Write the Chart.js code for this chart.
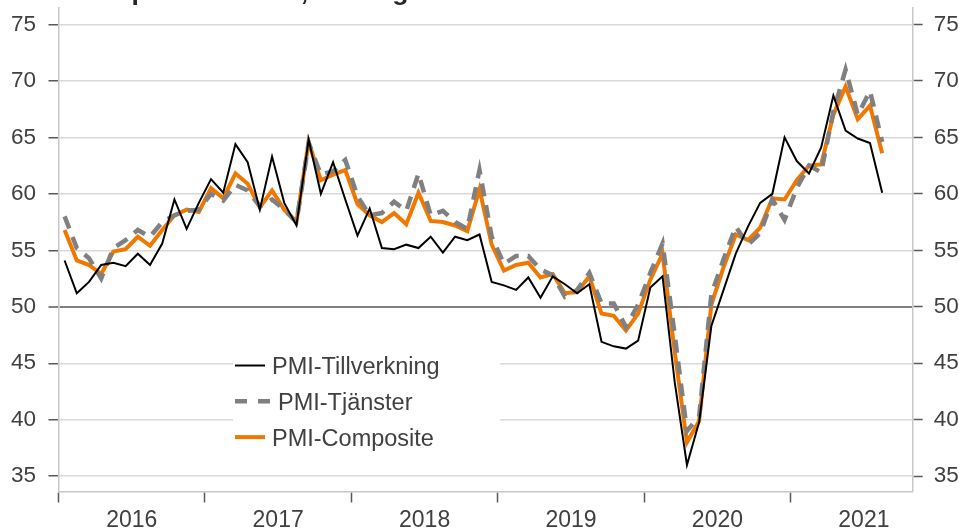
<!DOCTYPE html>
<html>
<head>
<meta charset="utf-8">
<script src="https://cdn.jsdelivr.net/npm/chart.js@4.4.1/dist/chart.umd.min.js"></script>
<style>
  html, body { margin: 0; padding: 0; background: #fff; }
  #wrap { width: 959px; height: 529px; position: relative; }
</style>
</head>
<body>
<div id="wrap"><canvas id="pmiChart"></canvas></div>
<script>
const years = ['2016', '2017', '2018', '2019', '2020', '2021'];
const yTicks = [35, 40, 45, 50, 55, 60, 65, 70, 75];
const seriesNames = ['PMI-Tillverkning', 'PMI-Tjänster', 'PMI-Composite'];
const titleText = 'Inköpschefsindex, säsongsrensat';

// månadsvärden jan 2016 - aug 2021
const tillverkning = [
  54.1, 51.2, 52.2, 53.7, 53.9, 53.6, 54.7, 53.7, 55.6, 59.5, 56.9, 59.2,
  61.3, 60.1, 64.4, 62.8, 58.6, 63.3, 59.2, 57.2, 64.8, 60.0, 62.8, 59.5,
  56.3, 58.7, 55.2, 55.1, 55.5, 55.2, 56.2, 54.8, 56.2, 55.9, 56.4, 52.2,
  51.9, 51.5, 52.6, 50.8, 52.7, 52.0, 51.2, 52.0, 46.9, 46.5, 46.3, 47.0,
  51.7, 52.7, 43.3, 36.0, 39.8, 48.3, 51.5, 54.7, 57.1, 59.2, 60.0, 65.0,
  62.9, 61.8, 64.1, 68.7, 65.6, 64.9, 64.5, 60.1
];
const tjanster = [
  58.0, 55.2, 54.3, 52.5, 55.2, 55.9, 56.8, 56.2, 57.5, 58.1, 58.5, 58.6,
  60.0, 59.4, 60.8, 60.3, 58.9, 59.5, 58.6, 57.5, 64.5, 61.7, 62.0, 63.0,
  59.8, 58.1, 58.3, 59.3, 58.5, 61.8, 58.1, 58.5, 57.5, 56.9, 62.1, 56.2,
  53.8, 54.5, 54.5, 53.3, 52.8, 50.9, 51.5, 53.0, 50.3, 50.3, 48.2, 50.2,
  53.0, 55.6, 47.5, 39.0, 40.3, 51.1, 54.2, 57.1, 55.5, 56.5, 59.5, 57.7,
  60.5, 62.5, 61.9, 67.3, 71.0, 67.0, 69.1, 64.6
];
const composite = [
  56.8, 54.1, 53.7, 52.9, 54.9, 55.1, 56.2, 55.4, 56.8, 58.1, 58.6, 58.4,
  60.5, 59.6, 61.8, 60.9, 58.8, 60.3, 58.6, 57.5, 64.6, 61.2, 61.7, 62.1,
  59.1, 58.1, 57.5, 58.3, 57.3, 60.1, 57.6, 57.5, 57.2, 56.7, 60.4, 55.5,
  53.2, 53.7, 53.9, 52.6, 52.9, 51.2, 51.3, 52.7, 49.4, 49.2, 47.9, 49.4,
  52.4, 54.7, 46.0, 38.0, 39.9, 50.2, 53.5, 56.4, 55.9, 57.0, 59.6, 59.5,
  61.2, 62.5, 62.6, 67.0, 69.5, 66.6, 67.8, 63.6
];

// x-axeln går till slutet av okt 2021
const labels = [];
years.forEach(y => {
  for (let m = 1; m <= 12; m++) labels.push(y + '-' + String(m).padStart(2, '0'));
});
labels.length = 70;

const font = 'Liberation Sans, Arial, sans-serif';
const textColor = '#404040';

const legendBox = {
  id: 'legendBox',
  beforeDatasetsDraw(chart) {
    const ctx = chart.ctx;
    ctx.save();
    ctx.fillStyle = '#ffffff';
    ctx.fillRect(233, 345, 267, 110);
    ctx.restore();
  },
  afterDatasetsDraw(chart) {
    const ctx = chart.ctx;
    ctx.save();
    ctx.font = '23.5px ' + font;
    ctx.textBaseline = 'alphabetic';
    chart.data.datasets.forEach((ds, i) => {
      const y = 365.5 + i * 35.8;
      ctx.strokeStyle = ds.borderColor;
      ctx.lineWidth = ds.borderWidth;
      ctx.setLineDash(ds.borderDash ? [12, 11] : []);
      ctx.beginPath();
      ctx.moveTo(235, y);
      ctx.lineTo(ds.borderDash ? 270 : 265, y);
      ctx.stroke();
      ctx.fillStyle = textColor;
      ctx.fillText(ds.label, ds.borderDash ? 278 : 272, y + 8.5);
    });
    ctx.restore();
  },
  afterDraw(chart) {
    // rubriken är beskuren i originalet, bara underhängen syns
    const ctx = chart.ctx;
    ctx.save();
    ctx.font = 'bold 26.5px ' + font;
    ctx.fillStyle = '#262626';
    ctx.textBaseline = 'alphabetic';
    ctx.fillText(titleText, 77, 0);
    ctx.restore();
  }
};

const yScaleBase = {
  min: 33.65,
  max: 76.45,
  afterBuildTicks: scale => { scale.ticks = yTicks.map(v => ({ value: v })); },
  border: { color: '#c8c8c8', width: 1.5 },
  ticks: { color: textColor, font: { family: font, size: 22.5 } }
};

function fixWidth(w) {
  return scale => {
    scale.width = w;
    scale.paddingTop = 0;
    scale.paddingBottom = 0;
  };
}

new Chart(document.getElementById('pmiChart'), {
  type: 'line',
  data: {
    labels: labels,
    datasets: [
      {
        label: seriesNames[0],
        data: tillverkning,
        borderColor: '#000000',
        borderWidth: 2
      },
      {
        label: seriesNames[1],
        data: tjanster,
        borderColor: '#808080',
        borderWidth: 4.5,
        borderDash: [13, 9]
      },
      {
        label: seriesNames[2],
        data: composite,
        borderColor: '#f07800',
        borderWidth: 4
      }
    ]
  },
  options: {
    responsive: true,
    maintainAspectRatio: false,
    animation: false,
    layout: { padding: { top: 8, left: 0, right: 0, bottom: 0 } },
    elements: {
      point: { radius: 0, hoverRadius: 0 },
      line: { tension: 0, borderCapStyle: 'butt', borderJoinStyle: 'miter' }
    },
    plugins: {
      legend: { display: false },
      tooltip: { enabled: false }
    },
    scales: {
      x: {
        offset: true,
        afterFit: scale => {
          scale.height = 37.5;
          scale.paddingLeft = 0;
          scale.paddingRight = 0;
        },
        grid: {
          offset: true,
          drawOnChartArea: false,
          tickLength: 11,
          tickWidth: 1.5,
          tickColor: ctx => ctx.index % 12 === 0 ? '#595959' : 'rgba(0,0,0,0)'
        },
        border: { color: '#c8c8c8', width: 1.5 },
        ticks: {
          autoSkip: false,
          maxRotation: 0,
          minRotation: 0,
          padding: 4,
          labelOffset: -6.1,
          color: textColor,
          font: { family: font, size: 23 },
          callback: (val, i) => i % 12 === 6 ? years[Math.floor(i / 12)] : ''
        }
      },
      y: {
        ...yScaleBase,
        position: 'left',
        afterFit: fixWidth(58.5),
        grid: {
          color: ctx => ctx.tick && ctx.tick.value === 50 ? '#808080' : '#d9d9d9',
          lineWidth: ctx => ctx.tick && ctx.tick.value === 50 ? 2 : 1.5,
          tickColor: '#595959',
          tickWidth: 1.5,
          tickLength: 10
        },
        ticks: { ...yScaleBase.ticks, padding: 12.5 }
      },
      y2: {
        ...yScaleBase,
        position: 'right',
        afterFit: fixWidth(46.3),
        grid: {
          drawOnChartArea: false,
          tickColor: '#595959',
          tickWidth: 1.5,
          tickLength: 10
        },
        ticks: { ...yScaleBase.ticks, padding: 11 }
      }
    }
  },
  plugins: [legendBox]
});
</script>
</body>
</html>
